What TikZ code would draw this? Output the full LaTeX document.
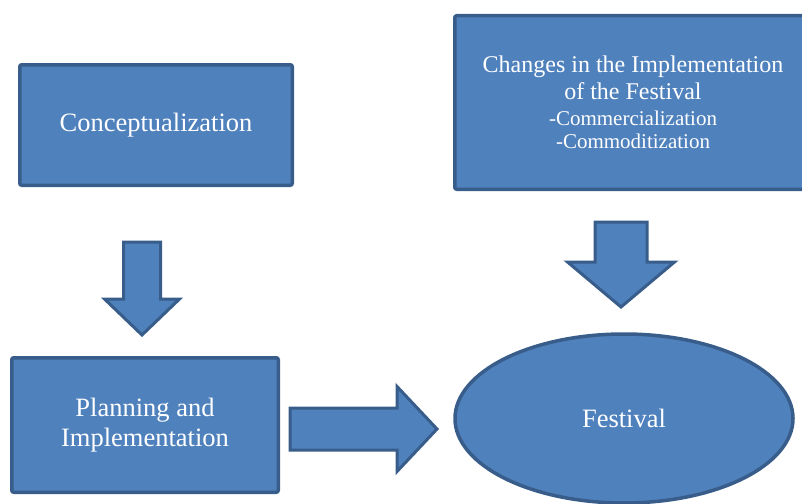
\documentclass[tikz,border=0pt]{standalone}
\usepackage{fontspec}
\setmainfont{Liberation Serif}
\usetikzlibrary{shapes.geometric}

\definecolor{boxblue}{HTML}{4F81BD}
\definecolor{boxline}{HTML}{385D8A}

\newcommand{\sublabel}{\fontsize{21}{23}\selectfont}

% block arrow: start, rotation, length, shaft width, head width, head length
\newcommand{\blockarrow}[6]{%
	\draw[blockarrow, shift={(#1)}, rotate=#2]
	(0,{-#4/2}) -- ({#3-#6},{-#4/2}) -- ({#3-#6},{-#5/2}) -- (#3,0) --
	({#3-#6},{#5/2}) -- ({#3-#6},{#4/2}) -- (0,{#4/2}) -- cycle;}

\begin{document}
\begin{tikzpicture}[x=1pt, y=-1pt, line join=miter,
	stagebox/.style={rectangle, rounded corners=2pt, fill=boxblue, draw=boxline,
		line width=3.5pt, text=white, align=center, inner sep=0pt,
		font=\fontsize{26.5}{30}\selectfont},
	stageoval/.style={ellipse, fill=boxblue, draw=boxline, line width=3.5pt,
		text=white, inner sep=0pt, font=\fontsize{26.5}{30}\selectfont},
	blockarrow/.style={fill=boxblue, draw=boxline, line width=3pt}]
	
	% ----------------------------
	% 0) Canvas
	% ----------------------------
	\useasboundingbox (0,0) rectangle (802,503);
	
	% ----------------------------
	% 1) Stages
	% ----------------------------
	\node[stagebox, minimum width=272.5, minimum height=120.5] (concept) at (156,125)
	{Conceptualization};
	
	\node[stagebox, minimum width=266.5, minimum height=134.5] (planning) at (145,425)
	{Planning and\\Implementation};
	
	\node[stagebox, minimum width=356.5, minimum height=173.5,
	font=\fontsize{24}{27.5}\selectfont] (changes) at (633,102.5)
	{Changes in the Implementation\\of the Festival\\[-2pt]
		\sublabel -Commercialization\\[-4pt]\sublabel -Commoditization};
	
	\node[stageoval, minimum width=338, minimum height=169] (festival) at (624,418.5)
	{Festival};
	
	% ----------------------------
	% 2) Block arrows
	% ----------------------------
	\coordinate (down1) at (142,242);
	\coordinate (right1) at (290,429);
	\coordinate (down2) at (621,222);
	
	\blockarrow{down1}{-90}{93}{37}{75}{36}
	\blockarrow{right1}{0}{147}{42}{85}{40}
	\blockarrow{down2}{-90}{85}{52}{107}{45}
	
\end{tikzpicture}
\end{document}
